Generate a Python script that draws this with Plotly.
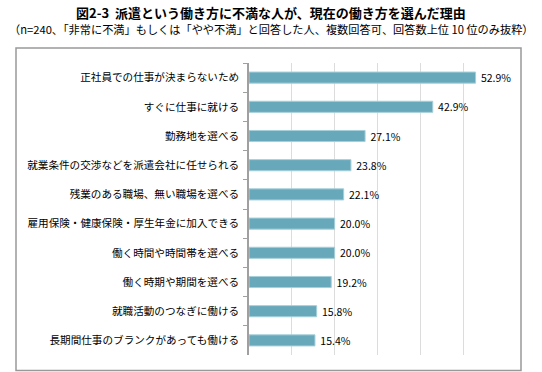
import plotly.graph_objects as go

categories = [
    "正社員での仕事が決まらないため",
    "すぐに仕事に就ける",
    "勤務地を選べる",
    "就業条件の交渉などを派遣会社に任せられる",
    "残業のある職場、無い職場を選べる",
    "雇用保険・健康保険・厚生年金に加入できる",
    "働く時間や時間帯を選べる",
    "働く時期や期間を選べる",
    "就職活動のつなぎに働ける",
    "長期間仕事のブランクがあっても働ける",
]
values = [52.9, 42.9, 27.1, 23.8, 22.1, 20.0, 20.0, 19.2, 15.8, 15.4]

title_text = "図2-3  派遣という働き方に不満な人が、現在の働き方を選んだ理由"
subtitle_text = "（n=240、「非常に不満」もしくは「やや不満」と回答した人、複数回答可、回答数上位 10 位のみ抜粋）"

JP = "Noto Sans CJK JP"

W, H = 542, 372
L, R, T, B = 249, 506, 63, 355

def px_x(x):
    return (x - L) / (R - L)

def px_y(y):
    return (B - y) / (B - T)

fig = go.Figure()
fig.add_trace(go.Bar(
    x=values,
    y=categories,
    orientation="h",
    width=0.38,
    marker=dict(color="#67A8BA", line=dict(color="#A6CFDA", width=1)),
    text=[f" {v:.1f}%" for v in values],
    textposition="outside",
    constraintext="none",
    textfont=dict(family=JP, size=10.5, color="#000000"),
    cliponaxis=False,
    hoverinfo="skip",
))

fig.update_layout(
    width=W, height=H,
    margin=dict(l=L, r=W - R, t=T, b=H - B, autoexpand=False),
    paper_bgcolor="white",
    plot_bgcolor="white",
    showlegend=False,
    font=dict(family=JP, color="#000000"),
    xaxis=dict(
        range=[0, 60], dtick=10, showgrid=True, gridcolor="#DCDCDC", gridwidth=1,
        showticklabels=False, zeroline=False, showline=False, fixedrange=True,
    ),
    yaxis=dict(
        autorange="reversed", showline=True, linecolor="#A0A0A0", linewidth=1.5,
        ticks="outside", ticklen=4, tickcolor="#A0A0A0", tickson="boundaries",
        tickfont=dict(family=JP, size=10.6, color="#000000"),
        ticklabelstandoff=6, automargin=False,
        showgrid=False, fixedrange=True,
    ),
    shapes=[dict(
        type="rect", xref="paper", yref="paper",
        x0=px_x(16), x1=px_x(521), y0=px_y(370.5), y1=px_y(48),
        line=dict(color="#999999", width=1.5), fillcolor="rgba(0,0,0,0)", layer="below",
    )],
    annotations=[
        dict(text="<b>" + title_text + "</b>", xref="paper", yref="paper",
             x=px_x(271), y=px_y(12), xanchor="center", yanchor="middle",
             showarrow=False, font=dict(family=JP, size=13, color="#000000")),
        dict(text=subtitle_text, xref="paper", yref="paper",
             x=px_x(271), y=px_y(29), xanchor="center", yanchor="middle",
             showarrow=False, font=dict(family=JP, size=11.2, color="#000000")),
    ],
)

fig.write_html(
    "out.html",
    config={"displayModeBar": False},
    post_script="document.body.style.margin='0';document.body.style.overflow='hidden';",
)
